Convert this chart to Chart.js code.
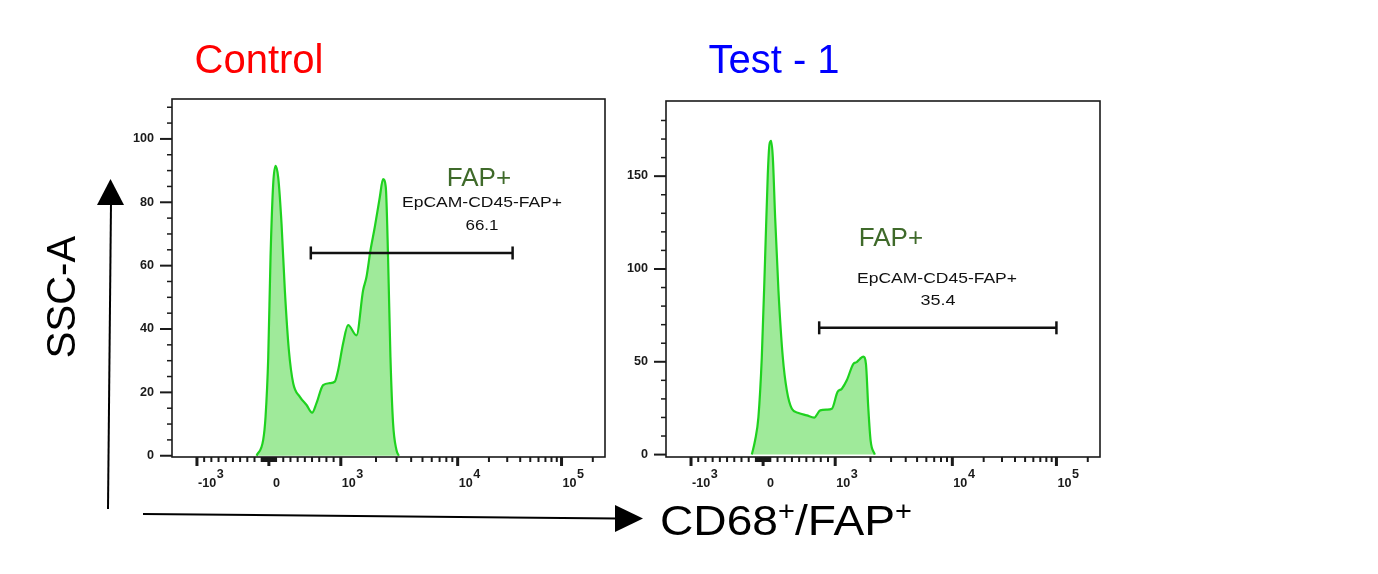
<!DOCTYPE html>
<html><head><meta charset="utf-8">
<script src="https://cdn.jsdelivr.net/npm/chart.js@4"></script>
<style>
html,body{margin:0;padding:0;background:#fff;width:1378px;height:574px;overflow:hidden;}
.panel{position:absolute;}
svg{position:absolute;left:0;top:0;pointer-events:none;}
svg text{font-family: Arial, 'Liberation Sans', sans-serif;}
</style></head><body>
<div class="panel" style="left:100px;top:90px;width:520px;height:420px"><canvas id="control" width="520" height="420"></canvas></div>
<div class="panel" style="left:594px;top:92px;width:522px;height:418px"><canvas id="test" width="522" height="418"></canvas></div>
<svg width="1378" height="574" viewBox="0 0 1378 574">
  <text x="259" y="73" font-size="40" fill="#ff0000" text-anchor="middle">Control</text>
  <text x="774" y="73" font-size="40" fill="#0000ff" text-anchor="middle">Test - 1</text>
  <text transform="translate(75,297) rotate(-90)" font-size="40" fill="#000" text-anchor="middle">SSC-A</text>
  <text x="660" y="535" font-size="43" fill="#000" textLength="252" lengthAdjust="spacingAndGlyphs">CD68<tspan font-size="27" dy="-15">+</tspan><tspan dy="15">/FAP</tspan><tspan font-size="27" dy="-15">+</tspan></text>
  <line x1="108" y1="509" x2="111" y2="203" stroke="#000" stroke-width="2"/>
  <polygon points="97,205 124,205 110.5,179" fill="#000"/>
  <line x1="143" y1="514" x2="617" y2="518.5" stroke="#000" stroke-width="2"/>
  <polygon points="615,505 615,532 643,518.5" fill="#000"/>
  <text x="479" y="186" font-size="26" fill="#3f6a2a" text-anchor="middle">FAP+</text>
  <text x="482" y="207" font-size="15" fill="#111" text-anchor="middle" textLength="160" lengthAdjust="spacingAndGlyphs">EpCAM-CD45-FAP+</text>
  <text x="482" y="230" font-size="14" fill="#111" text-anchor="middle" textLength="33" lengthAdjust="spacingAndGlyphs">66.1</text>
  <text x="891" y="246" font-size="26" fill="#3f6a2a" text-anchor="middle">FAP+</text>
  <text x="937" y="283" font-size="15" fill="#111" text-anchor="middle" textLength="160" lengthAdjust="spacingAndGlyphs">EpCAM-CD45-FAP+</text>
  <text x="938" y="305" font-size="14" fill="#111" text-anchor="middle" textLength="35" lengthAdjust="spacingAndGlyphs">35.4</text>
</svg>
<script>
// ---- data (raw fluorescence values on x, event counts on y) ----
const controlX = [-171, -79, -46, -9, 23, 60, 93, 130, 176, 222, 278, 338, 431, 524, 601, 662, 754, 847, 917, 963, 1046, 1155, 1362, 1551, 1658, 1794, 1952, 2154, 2298, 2427, 2537, 2659, 2800, 2990, 3140];
const controlCount = [0, 5, 12.4, 31, 62.7, 85.8, 91.5, 87.8, 73.2, 52.2, 33.3, 22.9, 18.6, 16, 13.6, 16.6, 22.3, 22.9, 23.4, 27, 35.4, 41.2, 38, 52.2, 56.4, 64.8, 72.1, 81.5, 87.3, 84.7, 62.7, 31.2, 10.3, 1.9, 0];
const testX = [-157, -111, -65, -18, 28, 65, 88, 111, 135, 167, 213, 273, 329, 399, 491, 606, 708, 792, 885, 954, 1046, 1140, 1256, 1430, 1527, 1629, 1738, 1830, 1915, 2005, 2180];
const testCount = [0, 7.7, 20.2, 52.5, 106, 151, 167, 169, 160, 127.7, 88.3, 52.5, 34.6, 24.7, 22.4, 21.1, 19.9, 23.8, 24.2, 24.7, 33.7, 35.5, 40, 48.9, 49.8, 51.6, 52.8, 48.9, 25.6, 7.7, 0];
const controlGate = [583, 33800];
const controlGateLevel = 64;
const testGate = [778, 100000];
const testGateLevel = 68.3;
const xMajorTicks = [-1000, 0, 1000, 10000, 100000];
const xMajorLabels = [['-10', '3'], ['0', ''], ['10', '3'], ['10', '4'], ['10', '5']];
const xMinorTicks = [-900, -800, -700, -600, -500, -400, -300, -200, -100,
  -90, -80, -70, -60, -50, -40, -30, -20, -10, 10, 20, 30, 40, 50, 60, 70, 80, 90,
  100, 200, 300, 400, 500, 600, 700, 800, 900,
  2000, 3000, 4000, 5000, 6000, 7000, 8000, 9000,
  20000, 30000, 40000, 50000, 60000, 70000, 80000, 90000, 200000];
const controlYMajor = [0, 20, 40, 60, 80, 100];
const controlYMinor = [5, 10, 15, 25, 30, 35, 45, 50, 55, 65, 70, 75, 85, 90, 95, 105, 110];
const testYMajor = [0, 50, 100, 150];
const testYMinor = [10, 20, 30, 40, 60, 70, 80, 90, 110, 120, 130, 140, 160, 170, 180];

// ---- biexponential-like display transform (scale configuration) ----
const LIN = 1000, DEC1 = 1.625, DEC2 = 1.444;
function biex(v) {
  if (v <= LIN) return v / LIN;
  if (v <= 10000) return 1 + (Math.log10(v) - 3) * DEC1;
  return 1 + DEC1 + (Math.log10(v) - 4) * DEC2;
}
const X_MIN = -1347, X_MAX = 262144;

const FONT = 'bold 12px Arial, "Liberation Sans", sans-serif';
function axesPlugin(yMajor, yMinor) {
  return {
    id: 'flowAxes',
    afterDraw(chart) {
      const ctx = chart.ctx, a = chart.chartArea, xs = chart.scales.x, ys = chart.scales.y;
      ctx.save();
      ctx.strokeStyle = '#1a1a1a';
      ctx.fillStyle = '#1a1a1a';
      ctx.lineWidth = 1.6;
      ctx.strokeRect(a.left, a.top, a.right - a.left, a.bottom - a.top);
      const seg = (x1, y1, x2, y2) => { ctx.beginPath(); ctx.moveTo(x1, y1); ctx.lineTo(x2, y2); ctx.stroke(); };
      // y ticks
      ctx.lineWidth = 1.5;
      yMinor.forEach(v => { const y = ys.getPixelForValue(v); seg(a.left - 5, y, a.left, y); });
      ctx.lineWidth = 2;
      ctx.font = FONT; ctx.textAlign = 'right'; ctx.textBaseline = 'middle';
      yMajor.forEach(v => {
        const y = ys.getPixelForValue(v);
        seg(a.left - 12, y, a.left, y);
        ctx.save(); ctx.translate(a.left - 18, y); ctx.scale(1.05, 1); ctx.fillText(String(v), 0, 0); ctx.restore();
      });
      // x ticks
      ctx.lineWidth = 2;
      xMinorTicks.forEach(v => { const x = xs.getPixelForValue(biex(v)); seg(x, a.bottom, x, a.bottom + 5); });
      ctx.lineWidth = 3;
      ctx.textAlign = 'left'; ctx.textBaseline = 'alphabetic';
      xMajorTicks.forEach((v, i) => {
        const x = xs.getPixelForValue(biex(v));
        seg(x, a.bottom, x, a.bottom + 9);
        const [base, exp] = xMajorLabels[i];
        const bx = x + (exp ? 1 : 4);
        ctx.save(); ctx.translate(bx, a.bottom + 30); ctx.scale(1.05, 1); ctx.fillText(base, 0, 0);
        if (exp) { const w = ctx.measureText(base).width; ctx.fillText(exp, w + 0.5, -9); }
        ctx.restore();
      });
      ctx.restore();
    }
  };
}

function makeChart(id, xs, counts, gate, gateLevel, yMin, yMax, yMajor, yMinor, padRight) {
  const hist = xs.map((v, i) => ({ x: biex(v), y: counts[i] }));
  const gatePts = gate.map(v => ({ x: biex(v), y: gateLevel }));
  return new Chart(document.getElementById(id), {
    type: 'line',
    data: {
      datasets: [
        { data: gatePts, order: 0, borderColor: '#111', borderWidth: 2.5, fill: false,
          pointStyle: 'line', rotation: 90, pointRadius: 6.5, pointBorderWidth: 2.5, pointBorderColor: '#111', pointHoverRadius: 6.5 },
        { data: hist, order: 1, borderColor: '#1fd21f', borderWidth: 2.2, backgroundColor: '#9fea9a',
          fill: 'origin', pointRadius: 0, cubicInterpolationMode: 'monotone' }
      ]
    },
    options: {
      responsive: false, animation: false, events: [],
      layout: { padding: { left: 0, top: 8, right: padRight, bottom: 0 } },
      plugins: { legend: { display: false }, tooltip: { enabled: false } },
      scales: {
        x: { type: 'linear', min: biex(X_MIN), max: biex(X_MAX),
             grid: { display: false }, border: { display: false }, ticks: { display: false },
             afterFit: s => { s.height = 53; } },
        y: { type: 'linear', min: yMin, max: yMax,
             grid: { display: false }, border: { display: false }, ticks: { display: false },
             afterFit: s => { s.width = 72; } }
      }
    },
    plugins: [axesPlugin(yMajor, yMinor)]
  });
}

makeChart('control', controlX, controlCount, controlGate, controlGateLevel, -0.4, 112.6, controlYMajor, controlYMinor, 15);
makeChart('test', testX, testCount, testGate, testGateLevel, -1.3, 190.5, testYMajor, testYMinor, 16);
</script>
</body></html>
